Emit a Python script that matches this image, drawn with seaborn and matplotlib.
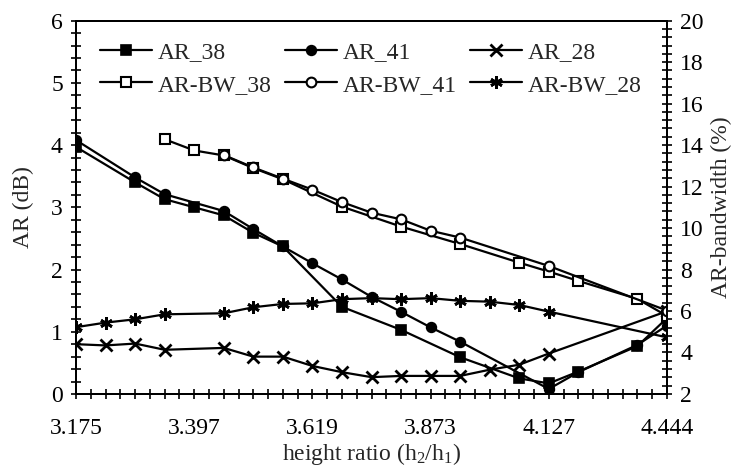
import numpy as np
import pandas as pd
import seaborn as sns
import matplotlib.pyplot as plt
from matplotlib.ticker import MultipleLocator, FixedLocator

# x tick labels (height ratio); data x = step index, 8 steps per labelled tick
tick_labels = ["3.175", "3.397", "3.619", "3.873", "4.127", "4.444"]

x_ar38 = [0, 4, 6, 8, 10, 12, 14, 18, 22, 26, 30, 32, 34, 38, 40]
ar38 = [3.97, 3.40, 3.13, 3.00, 2.87, 2.59, 2.37, 1.40, 1.03, 0.59, 0.25, 0.17, 0.36, 0.77, 1.22]

x_ar41 = [0, 4, 6, 10, 12, 14, 16, 18, 20, 22, 24, 26, 32, 34, 38, 40]
ar41 = [4.08, 3.48, 3.21, 2.94, 2.65, 2.37, 2.10, 1.84, 1.56, 1.32, 1.07, 0.84, 0.08, 0.35, 0.79, 1.10]

x_ar28 = [0, 2, 4, 6, 10, 12, 14, 16, 18, 20, 22, 24, 26, 28, 30, 32, 40]
ar28 = [0.80, 0.78, 0.81, 0.71, 0.74, 0.60, 0.60, 0.45, 0.35, 0.27, 0.29, 0.29, 0.29, 0.39, 0.47, 0.65, 1.33]

x_bw38 = [6, 8, 10, 12, 14, 18, 22, 26, 30, 32, 34, 38, 40]
bw38 = [14.28, 13.74, 13.50, 12.89, 12.35, 11.03, 10.07, 9.23, 8.33, 7.90, 7.45, 6.58, 5.76]

x_bw41 = [10, 12, 14, 16, 18, 20, 22, 24, 26, 32, 40]
bw41 = [13.52, 12.92, 12.38, 11.85, 11.25, 10.74, 10.42, 9.87, 9.54, 8.17, 6.02]

x_bw28 = [0, 2, 4, 6, 10, 12, 14, 16, 18, 20, 22, 24, 26, 28, 30, 32, 40]
bw28 = [5.22, 5.44, 5.60, 5.84, 5.89, 6.18, 6.34, 6.37, 6.57, 6.62, 6.57, 6.62, 6.49, 6.45, 6.29, 5.97, 4.73]

sns.set_style("ticks")
plt.rcParams['font.family'] = ['Liberation Serif', 'DejaVu Serif']
plt.rcParams['font.size'] = 17
plt.rcParams['axes.linewidth'] = 1.4

fig, ax = plt.subplots(figsize=(7.36, 4.69), dpi=100)
fig.subplots_adjust(left=0.1033, right=0.9063, top=0.956, bottom=0.16)
ax2 = ax.twinx()

lw = 1.6
ms = 7
sns.lineplot(x=x_ar38, y=ar38, ax=ax, color='k', lw=lw, marker='s', markersize=ms,
             markerfacecolor='k', markeredgecolor='k', markeredgewidth=1.2, label='AR_38')
sns.lineplot(x=x_ar41, y=ar41, ax=ax, color='k', lw=lw, marker='o', markersize=ms,
             markerfacecolor='k', markeredgecolor='k', markeredgewidth=1.2, label='AR_41')
sns.lineplot(x=x_ar28, y=ar28, ax=ax, color='k', lw=lw, marker='x', markersize=ms + 1,
             markeredgecolor='k', markeredgewidth=2, label='AR_28')
sns.lineplot(x=x_bw38, y=bw38, ax=ax2, color='k', lw=lw, marker='s', markersize=ms,
             markerfacecolor='w', markeredgecolor='k', markeredgewidth=1.5, label='AR-BW_38')
sns.lineplot(x=x_bw41, y=bw41, ax=ax2, color='k', lw=lw, marker='o', markersize=ms,
             markerfacecolor='w', markeredgecolor='k', markeredgewidth=1.5, label='AR-BW_41')
sns.lineplot(x=x_bw28, y=bw28, ax=ax2, color='k', lw=lw, marker=(6, 2, 0), markersize=ms + 2,
             markeredgecolor='k', markeredgewidth=2, label='AR-BW_28')

ax.set_xlim(0, 40)
ax.set_ylim(0, 6)
ax2.set_ylim(2, 20)
ax.xaxis.set_major_locator(FixedLocator([0, 8, 16, 24, 32, 40]))
ax.set_xticklabels(tick_labels)
ax.xaxis.set_minor_locator(MultipleLocator(1))
ax.yaxis.set_major_locator(MultipleLocator(1))
ax.yaxis.set_minor_locator(MultipleLocator(0.2))
ax2.yaxis.set_major_locator(MultipleLocator(2))
ax2.yaxis.set_minor_locator(MultipleLocator(0.4))

for a in (ax, ax2):
    a.tick_params(which='both', direction='inout', length=7, width=1.2, colors='k')
    a.tick_params(axis='y', labelsize=17, pad=6)
    for s in a.spines.values():
        s.set_visible(True)
        s.set_color('k')
        s.set_linewidth(1.4)
ax.tick_params(axis='x', labelsize=17, pad=14)
ax.tick_params(top=False, right=False, which='both')

ax.set_xlabel(r"height ratio ($\mathregular{h_2/h_1}$)", fontsize=17, labelpad=1)
ax.set_ylabel("AR (dB)", fontsize=17, labelpad=12)
ax2.set_ylabel("AR-bandwidth (%)", fontsize=17, labelpad=5)

h1, l1 = ax.get_legend_handles_labels()
h2, l2 = ax2.get_legend_handles_labels()
for a in (ax, ax2):
    if a.get_legend() is not None:
        a.get_legend().remove()
handles = [h1[0], h2[0], h1[1], h2[1], h1[2], h2[2]]
labels = [l1[0], l2[0], l1[1], l2[1], l1[2], l2[2]]
ax2.legend(handles, labels, ncol=3, frameon=False, loc='upper left',
           bbox_to_anchor=(100 / 736, 1 - 42 / 469), bbox_transform=fig.transFigure,
           borderpad=0, borderaxespad=0, handlelength=2.2, handletextpad=0.25,
           columnspacing=0.55, labelspacing=0.45, fontsize=17)

plt.savefig('out.png', dpi=100)
plt.close('all')
